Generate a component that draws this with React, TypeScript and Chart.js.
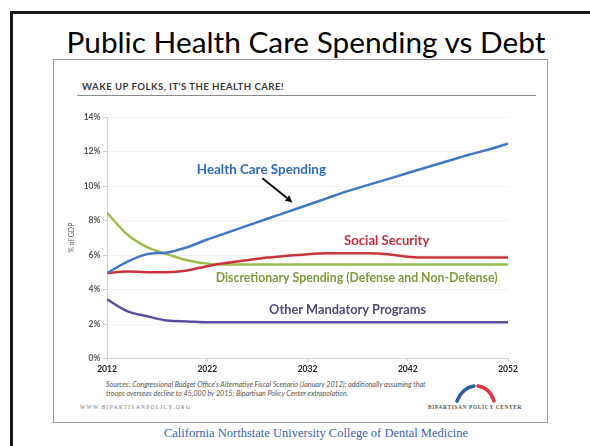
import React, { useEffect, useRef } from "react";
import { Chart, registerables } from "chart.js";

Chart.register(...registerables);

// ---- Data (% of GDP) ----
const years = [2012, 2014, 2016, 2018, 2020, 2022, 2024, 2026, 2028, 2030, 2032, 2034, 2036, 2038, 2040, 2042, 2044, 2046, 2048, 2050, 2052];
const healthCare = [4.95, 5.6, 6.05, 6.15, 6.45, 6.9, 7.3, 7.7, 8.1, 8.5, 8.9, 9.3, 9.7, 10.05, 10.4, 10.75, 11.1, 11.45, 11.8, 12.1, 12.45];
const socialSecurity = [4.95, 5.05, 5.0, 5.0, 5.1, 5.35, 5.55, 5.7, 5.85, 5.95, 6.05, 6.1, 6.1, 6.1, 6.05, 5.9, 5.85, 5.85, 5.85, 5.85, 5.85];
const discretionary = [8.45, 7.2, 6.45, 6.05, 5.7, 5.5, 5.45, 5.45, 5.45, 5.45, 5.45, 5.45, 5.45, 5.45, 5.45, 5.45, 5.45, 5.45, 5.45, 5.45, 5.45];
const otherMandatory = [3.43, 2.75, 2.45, 2.2, 2.15, 2.1, 2.1, 2.1, 2.1, 2.1, 2.1, 2.1, 2.1, 2.1, 2.1, 2.1, 2.1, 2.1, 2.1, 2.1, 2.1];

const xTickValues = [2012, 2022, 2032, 2042, 2052];
const yTickValues = [0, 2, 4, 6, 8, 10, 12, 14];

const seriesNames = ["Health Care Spending", "Social Security", "Discretionary Spending (Defense and Non-Defense)", "Other Mandatory Programs"];
const seriesColors = ["#3f78c6", "#c8343a", "#9dbd4e", "#5c4c9f"];
const labelColors = ["#2f6cbc", "#c0303e", "#7f9a3e", "#4f4b78"];
// label anchors in data units (year, % of GDP)
const labelYears = [2027.4, 2039.9, 2036.9, 2036.0];
const labelPcts = [10.95, 6.83, 4.68, 2.82];
const labelSizes = [13.4, 13.1, 12.3, 12.8];
// arrow from label toward health care line (year, %)
const arrowFrom = [2027.5, 10.45];
const arrowTo = [2030.5, 9.05];

const annotationPlugin = {
  id: "annotations",
  afterDatasetsDraw(chart: any) {
    const { ctx, scales } = chart;
    const x = scales.x;
    const y = scales.y;
    ctx.save();
    ctx.textAlign = "center";
    ctx.textBaseline = "middle";
    seriesNames.forEach((name, i) => {
      ctx.font = `bold ${labelSizes[i]}px Lato`;
      ctx.fillStyle = labelColors[i];
      ctx.fillText(name, x.getPixelForValue(labelYears[i]), y.getPixelForValue(labelPcts[i]));
    });
    const x1 = x.getPixelForValue(arrowFrom[0]);
    const y1 = y.getPixelForValue(arrowFrom[1]);
    const x2 = x.getPixelForValue(arrowTo[0]);
    const y2 = y.getPixelForValue(arrowTo[1]);
    const ang = Math.atan2(y2 - y1, x2 - x1);
    const head = 7;
    const bx = x2 - Math.cos(ang) * head;
    const by = y2 - Math.sin(ang) * head;
    ctx.strokeStyle = "#111";
    ctx.fillStyle = "#111";
    ctx.lineWidth = 2;
    ctx.beginPath();
    ctx.moveTo(x1, y1);
    ctx.lineTo(bx, by);
    ctx.stroke();
    ctx.beginPath();
    ctx.moveTo(x2, y2);
    ctx.lineTo(bx + Math.cos(ang + Math.PI / 2) * 3.5, by + Math.sin(ang + Math.PI / 2) * 3.5);
    ctx.lineTo(bx + Math.cos(ang - Math.PI / 2) * 3.5, by + Math.sin(ang - Math.PI / 2) * 3.5);
    ctx.closePath();
    ctx.fill();
    ctx.restore();
  },
};

export default function App() {
  const canvasRef = useRef<HTMLCanvasElement | null>(null);

  useEffect(() => {
    document.body.style.margin = "0";
    const canvas = canvasRef.current;
    if (!canvas) return;
    const datasets = [healthCare, socialSecurity, discretionary, otherMandatory].map((vals, i) => ({
      label: seriesNames[i],
      data: years.map((yr, j) => ({ x: yr, y: vals[j] })),
      borderColor: seriesColors[i],
      backgroundColor: seriesColors[i],
      borderWidth: 2.5,
      pointRadius: 0,
      cubicInterpolationMode: "monotone" as const,
      fill: false,
    }));
    const chart = new Chart(canvas, {
      type: "line",
      data: { datasets },
      plugins: [annotationPlugin],
      options: {
        animation: false,
        responsive: false,
        devicePixelRatio: 1,
        layout: { padding: { left: 0, top: 117, right: 82, bottom: 62.5 } },
        plugins: { legend: { display: false }, tooltip: { enabled: false }, title: { display: false } },
        scales: {
          x: {
            type: "linear",
            min: 2012,
            max: 2052,
            afterBuildTicks: (s: any) => {
              s.ticks = xTickValues.map((v) => ({ value: v }));
            },
            afterFit: (s: any) => {
              s.height = 25;
            },
            grid: { display: true, drawOnChartArea: false, drawTicks: true, tickLength: 3, color: "#cfcfcf" },
            border: { display: true, color: "#cfcfcf", width: 1 },
            ticks: {
              callback: (v: any) => String(v),
              font: { family: "Lato", size: 8.5, weight: "bold" },
              color: "#222",
              padding: 2.5,
              maxRotation: 0,
              autoSkip: false,
            },
          },
          y: {
            type: "linear",
            min: 0,
            max: 14,
            afterBuildTicks: (s: any) => {
              s.ticks = yTickValues.map((v) => ({ value: v }));
            },
            afterFit: (s: any) => {
              s.width = 107;
            },
            grid: { color: "#f2f2f2", tickColor: "#cfcfcf", drawTicks: true, tickLength: 4 },
            border: { display: true, color: "#cfcfcf", width: 1 },
            ticks: {
              callback: (v: any) => v + "%",
              font: { family: "Lato", size: 8.5, weight: "bold" },
              color: "#555",
              padding: 2.5,
            },
            title: {
              display: true,
              text: "% of GDP",
              font: { family: "Lato", size: 7 },
              color: "#555",
              padding: { top: 68, bottom: 0 },
            },
          },
        },
      },
    } as any);
    return () => chart.destroy();
  }, []);

  const abs = (s: React.CSSProperties): React.CSSProperties => ({ position: "absolute", whiteSpace: "nowrap", ...s });

  return (
    <div style={{ position: "fixed", left: 0, top: 0, width: 590, height: 446, background: "#fff", overflow: "hidden" }}>
      <div style={abs({ left: 10, top: 11, width: 640, height: 500, border: "3px solid #1a1a1a", boxSizing: "border-box" })} />
      <div style={abs({ left: 6, width: 600, top: 26.5, textAlign: "center", fontFamily: "Lato", fontSize: 29.8, lineHeight: "29.8px", color: "#000" })}>
        Public Health Care Spending vs Debt
      </div>
      <div style={abs({ left: 53, top: 59, width: 495, height: 364, border: "1px solid #9a9a9a", boxSizing: "border-box" })} />
      <div style={abs({ left: 82, top: 81.5, fontFamily: "Lato", fontWeight: "bold", fontSize: 9.6, lineHeight: "9.6px", letterSpacing: 0.45, color: "#3a3a3a" })}>
        WAKE UP FOLKS, IT'S THE HEALTH CARE!
      </div>
      <div style={abs({ left: 77, top: 95, width: 459, height: 1, background: "#8a8a8a" })} />
      <div style={abs({ left: 106, top: 380.5, fontFamily: "Lato", fontStyle: "italic", fontSize: 7.1, lineHeight: "7.1px", color: "#555" })}>
        Sources: Congressional Budget Office's Alternative Fiscal Scenario (January 2012); additionally assuming that
      </div>
      <div style={abs({ left: 106, top: 389.5, fontFamily: "Lato", fontStyle: "italic", fontSize: 7.1, lineHeight: "7.1px", color: "#555" })}>
        troops overseas decline to 45,000 by 2015; Bipartisan Policy Center extrapolation.
      </div>
      <div style={abs({ left: 80, top: 404.5, fontFamily: "Liberation Serif", fontSize: 5.5, lineHeight: "5.5px", letterSpacing: 1.3, color: "#777" })}>
        WWW.BIPARTISANPOLICY.ORG
      </div>
      <svg style={abs({ left: 452, top: 382, width: 48, height: 22 })} width={48} height={22} viewBox="0 0 48 22">
        <path d="M5 19 Q 10 6 22 4" stroke="#2f5da8" strokeWidth={3.5} fill="none" strokeLinecap="round" />
        <path d="M26 4 Q 38 6 42 19" stroke="#e0334a" strokeWidth={3.5} fill="none" strokeLinecap="round" />
      </svg>
      <div style={abs({ left: 428, top: 405, fontFamily: "Liberation Serif", fontWeight: "bold", fontSize: 5.3, lineHeight: "5.3px", letterSpacing: 0.7, color: "#555" })}>
        BIPARTISAN POLICY CENTER
      </div>
      <div style={abs({ left: 16, width: 600, top: 426.5, textAlign: "center", fontFamily: "Liberation Serif", fontSize: 12.5, lineHeight: "12.5px", color: "#3a63a8" })}>
        California Northstate University College of Dental Medicine
      </div>
      <canvas ref={canvasRef} width={590} height={446} style={{ position: "absolute", left: 0, top: 0, width: 590, height: 446 }} />
    </div>
  );
}
